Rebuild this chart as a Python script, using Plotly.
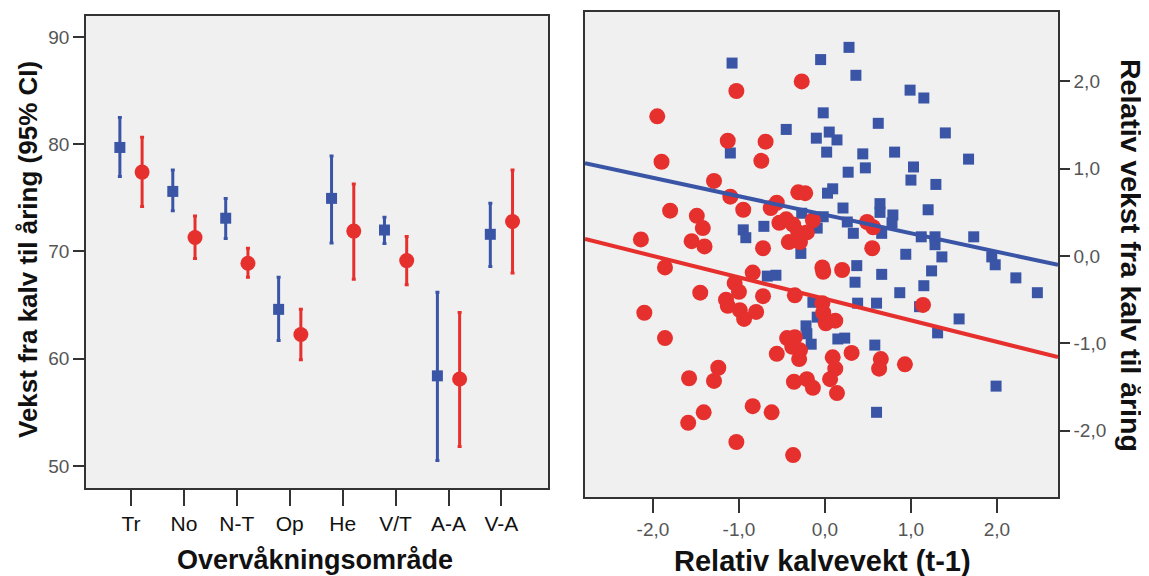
import plotly.graph_objects as go

# ---------------- Left panel data (means and 95% CI) ----------------
areas = ["Tr", "No", "N-T", "Op", "He", "V/T", "A-A", "V-A"]
blue_mean = [79.7, 75.6, 73.1, 64.6, 74.95, 72.0, 58.4, 71.6]
blue_hi = [82.5, 77.6, 74.95, 67.6, 78.9, 73.2, 66.2, 74.5]
blue_lo = [77.0, 73.8, 71.2, 61.7, 70.8, 70.75, 50.5, 68.6]
red_mean = [77.4, 71.3, 68.9, 62.25, 71.9, 69.15, 58.1, 72.8]
red_hi = [80.65, 73.3, 70.3, 64.6, 76.3, 71.4, 64.3, 77.6]
red_lo = [74.2, 69.35, 67.6, 59.9, 67.4, 66.9, 51.8, 68.0]

# ---------------- Right panel data (scatter) ----------------
red_x = [-1.95, -1.03, -0.27, -1.13, -0.69, -0.74, -1.90, -1.29, -1.10, -0.31,
         -0.23, -1.80, -1.49, -1.42, -2.14, -1.55, -1.40, -0.95, -0.63, -0.56,
         -0.53, -0.45, -0.37, -0.31, -0.21, -0.42, -0.29, -0.14, -0.72, -1.86,
         -0.84, -1.05, -1.00, -1.45, -0.72, -0.35, -1.15, -1.13, -0.99, -0.80,
         -0.94, -2.10, -1.86, -0.03, -0.02, 0.01, 0.12, -0.03, -0.02, 0.20,
         0.55, 0.49, 0.56, 1.14, -0.44, -0.35, -0.38, -0.29, -0.30, -0.56,
         0.09, 0.31, 0.12, 0.06, -0.36, -0.21, -0.14, 0.14, -1.58, -1.24,
         -1.29, -1.41, -1.59, -0.84, -0.62, -1.03, -0.37, 0.65, 0.63, 0.93]
red_y = [1.60, 1.89, 2.00, 1.32, 1.31, 1.09, 1.08, 0.86, 0.68, 0.73,
         0.72, 0.52, 0.46, 0.32, 0.19, 0.17, 0.11, 0.53, 0.55, 0.61,
         0.38, 0.42, 0.36, 0.27, 0.27, 0.16, 0.16, 0.41, 0.09, -0.13,
         -0.19, -0.31, -0.41, -0.42, -0.46, -0.45, -0.50, -0.57, -0.62, -0.64,
         -0.72, -0.65, -0.94, -0.54, -0.65, -0.77, -0.74, -0.13, -0.18, -0.16,
         0.09, 0.39, 0.33, -0.56, -0.94, -0.93, -1.04, -1.08, -1.18, -1.12,
         -1.16, -1.11, -1.29, -1.41, -1.44, -1.41, -1.51, -1.57, -1.40, -1.28,
         -1.43, -1.79, -1.91, -1.72, -1.79, -2.13, -2.28, -1.18, -1.29, -1.24]

blue_x = [-1.08, -0.05, 0.28, 0.36, -0.02, -0.45, -0.10, 0.05, 0.14, 0.02,
          0.44, 0.47, 0.27, -1.10, 0.62, 0.09, 0.03, 0.99, 1.15, 1.40,
          0.81, 1.03, 1.00, 1.29, 1.67, 0.64, 0.64, 0.21, -0.27, -0.02,
          0.26, -0.95, -0.92, -0.71, -0.09, 0.33, -0.28, 0.37, 0.35, -0.67,
          -0.57, -0.14, -0.09, 0.38, 0.60, -0.22, -0.21, -0.16, 0.15, 0.23,
          0.79, 0.78, 1.20, 0.66, 1.12, 1.28, 1.28, 1.73, 0.94, 1.36,
          1.94, 1.98, 0.66, 1.24, 1.15, 0.87, 2.22, 2.47, 1.10, 1.56,
          1.31, 0.58, 1.99, 0.60]
blue_y = [2.21, 2.25, 2.39, 2.07, 1.64, 1.45, 1.35, 1.42, 1.33, 1.19,
          1.17, 1.01, 0.96, 1.18, 1.52, 0.77, 0.72, 1.90, 1.81, 1.41,
          1.19, 1.02, 0.87, 0.82, 1.11, 0.60, 0.50, 0.55, 0.49, 0.45,
          0.39, 0.30, 0.21, 0.34, 0.32, 0.26, 0.03, -0.11, -0.30, -0.23,
          -0.22, -0.53, -0.70, -0.54, -0.54, -0.80, -0.89, -1.01, -0.95, -0.94,
          0.47, 0.38, 0.53, 0.26, 0.22, 0.22, 0.13, 0.22, 0.02, -0.01,
          -0.01, -0.10, -0.21, -0.17, -0.34, -0.42, -0.25, -0.42, -0.58, -0.72,
          -0.88, -1.02, -1.49, -1.79]

# regression lines (intercept, slope)
blue_fit = (0.473, -0.212)
red_fit = (-0.491, -0.246)

x_ticks_right = [-2.0, -1.0, 0.0, 1.0, 2.0]
y_ticks_right = [-2.0, -1.0, 0.0, 1.0, 2.0]
y_ticks_left = [50, 60, 70, 80, 90]

BLUE = "#3a55a6"
RED = "#e6302e"
BG = "#f0f0f0"
AXC = "#333333"
TICKC = "#555555"
FONT = "Liberation Sans, Arial, sans-serif"

W, H = 1149, 576
OFF = 8  # default page body margin
FW, FH = W - OFF, H - OFF


def px(x):
    return (x - OFF) / FW


def py(y):
    return 1 - (y - OFF) / FH


def fmt(v):
    return f"{v:.1f}".replace(".", ",")


fig = go.Figure()

offset = 0.21
idx = list(range(len(areas)))
fig.add_trace(go.Scatter(
    x=[i - offset for i in idx], y=blue_mean, mode="markers",
    marker=dict(symbol="square", size=11, color=BLUE),
    error_y=dict(type="data", symmetric=False,
                 array=[h - m for h, m in zip(blue_hi, blue_mean)],
                 arrayminus=[m - l for l, m in zip(blue_lo, blue_mean)],
                 color=BLUE, thickness=3, width=2),
    xaxis="x", yaxis="y", showlegend=False))
fig.add_trace(go.Scatter(
    x=[i + offset for i in idx], y=red_mean, mode="markers",
    marker=dict(symbol="circle", size=15, color=RED),
    error_y=dict(type="data", symmetric=False,
                 array=[h - m for h, m in zip(red_hi, red_mean)],
                 arrayminus=[m - l for l, m in zip(red_lo, red_mean)],
                 color=RED, thickness=3, width=2),
    xaxis="x", yaxis="y", showlegend=False))

# right panel scatter
fig.add_trace(go.Scatter(
    x=blue_x, y=blue_y, mode="markers",
    marker=dict(symbol="square", size=11, color=BLUE),
    xaxis="x2", yaxis="y2", showlegend=False))
fig.add_trace(go.Scatter(
    x=red_x, y=red_y, mode="markers",
    marker=dict(symbol="circle", size=16, color=RED),
    xaxis="x2", yaxis="y2", showlegend=False))

xr2 = [-2.79, 2.71]
for (b0, b1), col in [(blue_fit, BLUE), (red_fit, RED)]:
    fig.add_trace(go.Scatter(
        x=xr2, y=[b0 + b1 * v for v in xr2], mode="lines",
        line=dict(color=col, width=4),
        xaxis="x2", yaxis="y2", showlegend=False))

axis_common = dict(showgrid=False, zeroline=False, showline=True, linecolor=AXC,
                   linewidth=1.5, mirror=True, ticks="outside",
                   tickwidth=2, tickcolor=AXC)

fig.update_layout(
    width=FW, height=FH,
    margin=dict(l=0, r=0, t=0, b=0),
    paper_bgcolor="white", plot_bgcolor=BG,
    font=dict(family=FONT, size=18, color=TICKC),
    xaxis=dict(domain=[px(86), px(548)], range=[-0.85, 7.88],
               tickvals=idx, ticktext=areas, anchor="y", ticklen=16,
               tickfont=dict(size=21, color="#111111"), **axis_common),
    yaxis=dict(domain=[py(488), py(16)], range=[47.94, 91.96],
               tickvals=y_ticks_left, anchor="x", ticklen=11,
               tickfont=dict(size=19, color=TICKC), **axis_common),
    xaxis2=dict(domain=[px(585), px(1058)], range=xr2,
                tickvals=x_ticks_right, ticktext=[fmt(v) for v in x_ticks_right],
                anchor="y2", ticklen=14,
                tickfont=dict(size=19, color=TICKC), **axis_common),
    yaxis2=dict(domain=[py(497), py(12)], range=[-2.76, 2.795],
                tickvals=y_ticks_right, ticktext=[fmt(v) for v in y_ticks_right],
                anchor="x2", side="right", ticklen=10,
                tickfont=dict(size=19, color=TICKC), **axis_common),
    annotations=[
        dict(text="<b>Vekst fra kalv til åring (95% CI)</b>", x=px(28), y=py(250),
             xref="paper", yref="paper", showarrow=False, textangle=-90,
             xanchor="center", yanchor="middle",
             font=dict(size=26, color="#111111", family=FONT)),
        dict(text="<b>Overvåkningsområde</b>", x=px(315), y=py(560),
             xref="paper", yref="paper", showarrow=False,
             xanchor="center", yanchor="middle",
             font=dict(size=27, color="#111111", family=FONT)),
        dict(text="<b>Relativ kalvevekt (t-1)</b>", x=px(822), y=py(561),
             xref="paper", yref="paper", showarrow=False,
             xanchor="center", yanchor="middle",
             font=dict(size=29, color="#111111", family=FONT)),
        dict(text="<b>Relativ vekst fra kalv til åring</b>", x=px(1131), y=py(255),
             xref="paper", yref="paper", showarrow=False, textangle=90,
             xanchor="center", yanchor="middle",
             font=dict(size=28.5, color="#111111", family=FONT)),
    ],
)

fig.write_html("out.html")
